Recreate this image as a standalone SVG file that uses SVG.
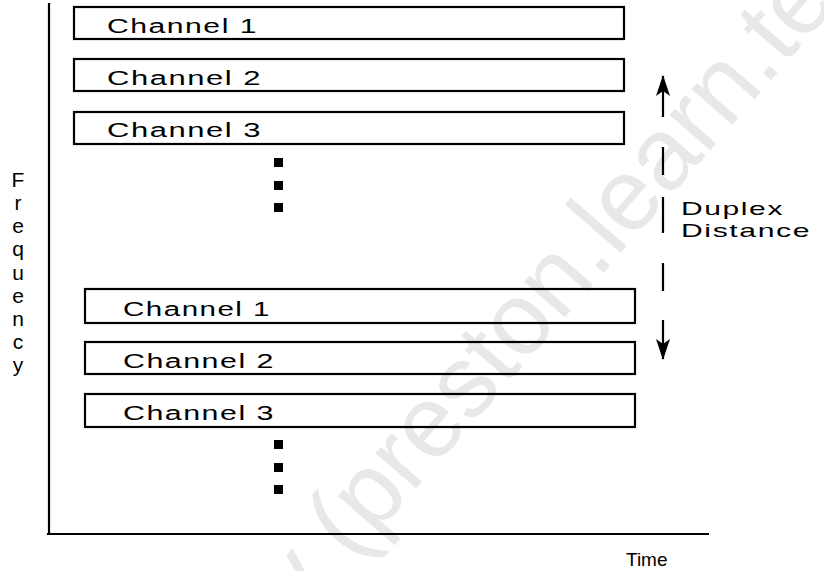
<svg xmlns="http://www.w3.org/2000/svg" width="824" height="571" viewBox="0 0 824 571">
  <defs>
    <style>
      .axis { stroke: #000; stroke-width: 2.2; fill: none; }
      .chan rect { fill: none; stroke: #000; stroke-width: 2.2; }
      .lbl { font-family: "Liberation Sans", Arial, sans-serif; font-size: 20px; letter-spacing: 1px; fill: #000; }
      .side { font-family: "Liberation Sans", Arial, sans-serif; font-size: 19px; letter-spacing: 1px; fill: #000; }
      .freq { font-family: "Liberation Sans", Arial, sans-serif; font-size: 21px; fill: #000; text-anchor: middle; }
      .time { font-family: "Liberation Sans", Arial, sans-serif; font-size: 19px; fill: #000; }
      .dot { fill: #000; }
      .wm { font-family: "Liberation Sans", Arial, sans-serif; font-size: 102px; fill: #e8e8e8; }
      .link { stroke: #000; stroke-width: 2.2; fill: none; }
    </style>
    <!-- barbed arrowhead, drawn pointing along +x -->
    <marker id="head" viewBox="0 0 22 16" refX="20" refY="8" markerWidth="22" markerHeight="16" markerUnits="userSpaceOnUse" orient="auto">
      <path d="M21,8 L0,1 L5,8 L0,15 Z" fill="#000"/>
    </marker>
  </defs>

  <!-- faint diagonal watermark -->
  <text class="wm" transform="translate(300,622) rotate(-49)">y (preston.learn.te</text>

  <!-- axes -->
  <g id="axes">
    <line class="axis" x1="49" y1="3" x2="49" y2="535"/>
    <line class="axis" x1="47" y1="534" x2="709" y2="534"/>
  </g>

  <!-- upper channel group -->
  <g id="up-ch1" class="chan">
    <rect x="74" y="7" width="550" height="32"/>
    <text class="lbl" x="107" y="33" textLength="151" lengthAdjust="spacingAndGlyphs">Channel 1</text>
  </g>
  <g id="up-ch2" class="chan">
    <rect x="74" y="59" width="550" height="32"/>
    <text class="lbl" x="107" y="85" textLength="155" lengthAdjust="spacingAndGlyphs">Channel 2</text>
  </g>
  <g id="up-ch3" class="chan">
    <rect x="74" y="112" width="550" height="32"/>
    <text class="lbl" x="107" y="137" textLength="155" lengthAdjust="spacingAndGlyphs">Channel 3</text>
  </g>
  <g id="up-more">
    <rect class="dot" x="274" y="158" width="9" height="9"/>
    <rect class="dot" x="274" y="181" width="9" height="9"/>
    <rect class="dot" x="274" y="203" width="9" height="9"/>
  </g>

  <!-- lower channel group -->
  <g id="lo-ch1" class="chan">
    <rect x="85" y="289" width="550" height="34"/>
    <text class="lbl" x="123" y="316" textLength="148" lengthAdjust="spacingAndGlyphs">Channel 1</text>
  </g>
  <g id="lo-ch2" class="chan">
    <rect x="85" y="342" width="550" height="32"/>
    <text class="lbl" x="123" y="368" textLength="152" lengthAdjust="spacingAndGlyphs">Channel 2</text>
  </g>
  <g id="lo-ch3" class="chan">
    <rect x="85" y="394" width="550" height="33"/>
    <text class="lbl" x="123" y="420" textLength="152" lengthAdjust="spacingAndGlyphs">Channel 3</text>
  </g>
  <g id="lo-more">
    <rect class="dot" x="274" y="440" width="9" height="9"/>
    <rect class="dot" x="274" y="463" width="9" height="9"/>
    <rect class="dot" x="274" y="485" width="9" height="9"/>
  </g>

  <!-- duplex distance indicator -->
  <g id="connectors">
    <line class="link" x1="663" y1="117" x2="663" y2="76" marker-end="url(#head)"/>
    <line class="link" x1="663" y1="147" x2="663" y2="175"/>
    <line class="link" x1="663" y1="197" x2="663" y2="233"/>
    <line class="link" x1="663" y1="263" x2="663" y2="291"/>
    <line class="link" x1="663" y1="320" x2="663" y2="359" marker-end="url(#head)"/>
  </g>
  <g id="duplex-label">
    <text class="side" x="681" y="215" textLength="103" lengthAdjust="spacingAndGlyphs">Duplex</text>
    <text class="side" x="681" y="237" textLength="130" lengthAdjust="spacingAndGlyphs">Distance</text>
  </g>

  <!-- axis titles -->
  <g id="freq-label">
    <text class="freq" x="18" y="187">F</text>
    <text class="freq" x="18" y="210">r</text>
    <text class="freq" x="18" y="233">e</text>
    <text class="freq" x="18" y="256">q</text>
    <text class="freq" x="18" y="280">u</text>
    <text class="freq" x="18" y="303">e</text>
    <text class="freq" x="18" y="326">n</text>
    <text class="freq" x="18" y="349">c</text>
    <text class="freq" x="18" y="372">y</text>
  </g>
  <g id="time-label">
    <text class="time" x="626" y="566">Time</text>
  </g>
</svg>
